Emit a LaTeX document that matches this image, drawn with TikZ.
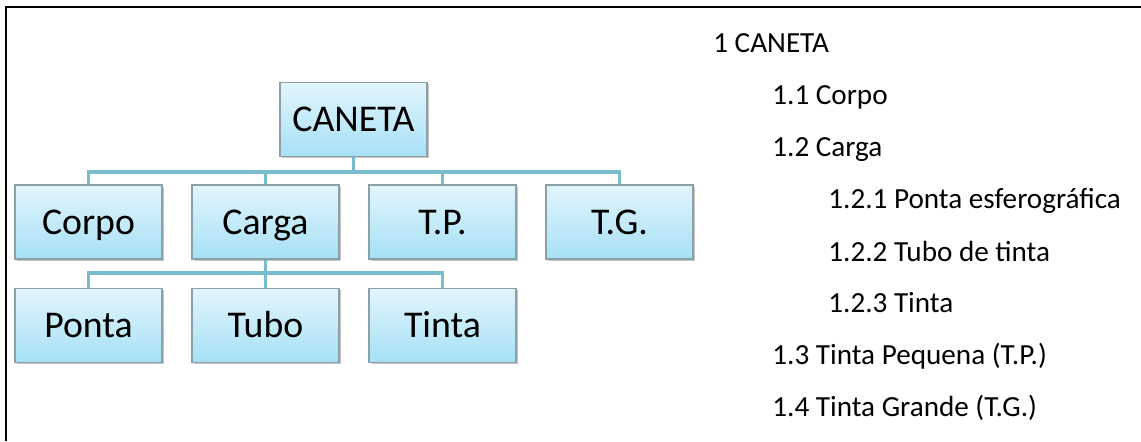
\documentclass[tikz,border=0pt]{standalone}
\usepackage{fontspec}
\setmainfont{Carlito}
\usepackage{tikz}
\usetikzlibrary{shadows}

\definecolor{caixatopo}{RGB}{226,245,252}
\definecolor{caixabase}{RGB}{166,224,246}
\definecolor{caixaborda}{RGB}{140,160,168}
\definecolor{ligacaocor}{RGB}{120,188,206}

\tikzset{
  caixa/.style={draw=caixaborda, line width=0.6pt, top color=caixatopo, bottom color=caixabase,
    minimum width=2.94cm, minimum height=1.48cm, inner sep=0pt,
    text height=13.85pt, text depth=0pt,
    font=\fontsize{21.5}{24}\selectfont,
    drop shadow={shadow xshift=0.9pt, shadow yshift=-0.9pt, fill=black!45, opacity=0.5}},
  ligacao/.style={draw=ligacaocor, line width=2pt},
  item/.style={anchor=base west, inner sep=0pt, font=\fontsize{16.6}{19}\selectfont},
  moldura/.style={draw=black, line width=1.2pt}
}

\begin{document}
\begin{tikzpicture}[x=0.02cm,y=-0.02cm]
\useasboundingbox (0,0) rectangle (1141,441);
\draw[moldura] (6,441) -- (6,7) -- (1141,7);

\node[caixa] (caneta) at (353.5,119.5) {CANETA};

\node[caixa] (corpo) at (88.5,222) {Corpo};
\node[caixa] (carga) at (265.5,222) {Carga};
\node[caixa] (tp) at (442.5,222) {T.P.};
\node[caixa] (tg) at (619.5,222) {T.G.};

\node[caixa] (ponta) at (88.5,325.5) {Ponta};
\node[caixa] (tubo) at (265.5,325.5) {Tubo};
\node[caixa] (tinta) at (442.5,325.5) {Tinta};

\coordinate (j1) at (353.5,172);
\coordinate (j2) at (265.5,273);

\draw[ligacao] (caneta.south) -- (j1);
\draw[ligacao] (corpo.north) |- (j1) -| (tg.north);
\draw[ligacao] (j1) -| (carga.north);
\draw[ligacao] (j1) -| (tp.north);

\draw[ligacao] (carga.south) -- (j2);
\draw[ligacao] (ponta.north) |- (j2) -| (tinta.north);
\draw[ligacao] (j2) -- (tubo.north);

\node[item] (l1) at (713,52) {1 CANETA};
\node[item] (l2) at (772,104) {1.1 Corpo};
\node[item] (l3) at (772,156) {1.2 Carga};
\node[item] (l4) at (828,208) {1.2.1 Ponta esferográfica};
\node[item] (l5) at (828,261) {1.2.2 Tubo de tinta};
\node[item] (l6) at (828,312) {1.2.3 Tinta};
\node[item] (l7) at (772,364) {1.3 Tinta Pequena (T.P.)};
\node[item] (l8) at (772,416) {1.4 Tinta Grande (T.G.)};
\end{tikzpicture}
\end{document}
